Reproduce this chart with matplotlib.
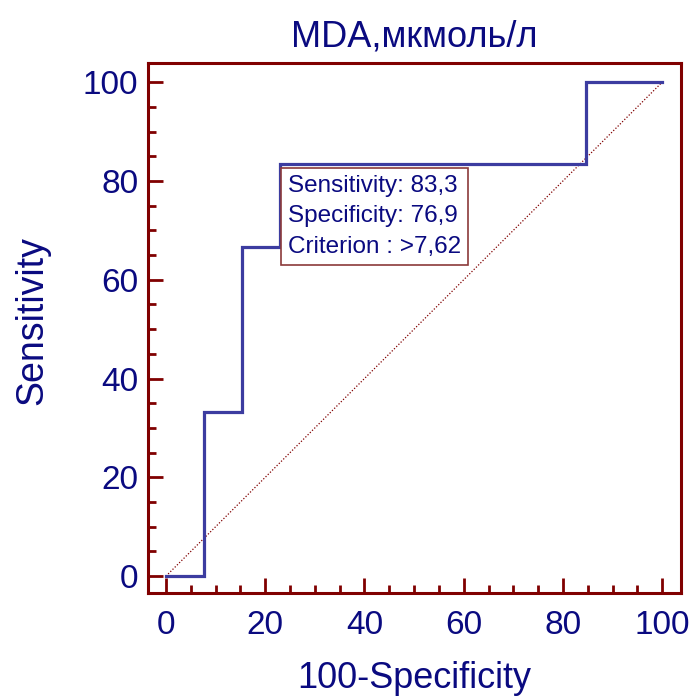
import numpy as np
import matplotlib
matplotlib.use("Agg")
import matplotlib.pyplot as plt
from matplotlib.ticker import MultipleLocator

plt.rcParams['font.family'] = ['Liberation Sans', 'DejaVu Sans']

# ROC step curve (100-Specificity, Sensitivity)
fpr = [0, 7.69, 7.69, 15.38, 15.38, 23.08, 23.08, 84.62, 84.62, 100]
tpr = [0, 0, 33.33, 33.33, 66.67, 66.67, 83.33, 83.33, 100, 100]
title = "MDA,мкмоль/л"
info = ["Sensitivity: 83,3", "Specificity: 76,9", "Criterion : >7,62"]
box_at = (24.6, 81.2)

navy = "#0a0a80"
maroon = "#800000"
curve = "#3c3ca0"

fig = plt.figure(figsize=(6.95, 6.96), dpi=100)
ax = fig.add_axes([0.213, 0.148, 0.767, 0.761])

ax.plot([0, 100], [0, 100], color=maroon, lw=0.9, ls=(0, (1, 1.5)))
ax.plot(fpr, tpr, color=curve, lw=2.3, solid_joinstyle='miter')

ax.set_xlim(-3.6, 103.8)
ax.set_ylim(-3.4, 103.8)
ax.xaxis.set_major_locator(MultipleLocator(20))
ax.xaxis.set_minor_locator(MultipleLocator(5))
ax.yaxis.set_major_locator(MultipleLocator(20))
ax.yaxis.set_minor_locator(MultipleLocator(5))
ax.tick_params(which='both', direction='in', color=maroon, labelcolor=navy,
               labelsize=24, top=False, right=False)
ax.tick_params(which='major', length=11, width=2)
ax.tick_params(which='minor', length=6, width=2)
ax.tick_params(axis='x', which='major', pad=12)
ax.tick_params(axis='y', which='major', pad=7)
for s in ax.spines.values():
    s.set_color(maroon)
    s.set_linewidth(2.2)

ax.set_title(title, color=navy, fontsize=26, pad=12)
ax.set_xlabel("100-Specificity", color=navy, fontsize=26)
ax.set_ylabel("Sensitivity", color=navy, fontsize=27)
ax.xaxis.set_label_coords(0.5, -0.128)
ax.yaxis.set_label_coords(-0.183, 0.515)

ax.text(box_at[0], box_at[1], "\n".join(info), color=navy, fontsize=17.5,
        va='top', ha='left', linespacing=1.5,
        bbox=dict(boxstyle='square,pad=0.3', fc='white', ec='#8b3a3a', lw=1.2))

fig.savefig("out.png", dpi=100)
